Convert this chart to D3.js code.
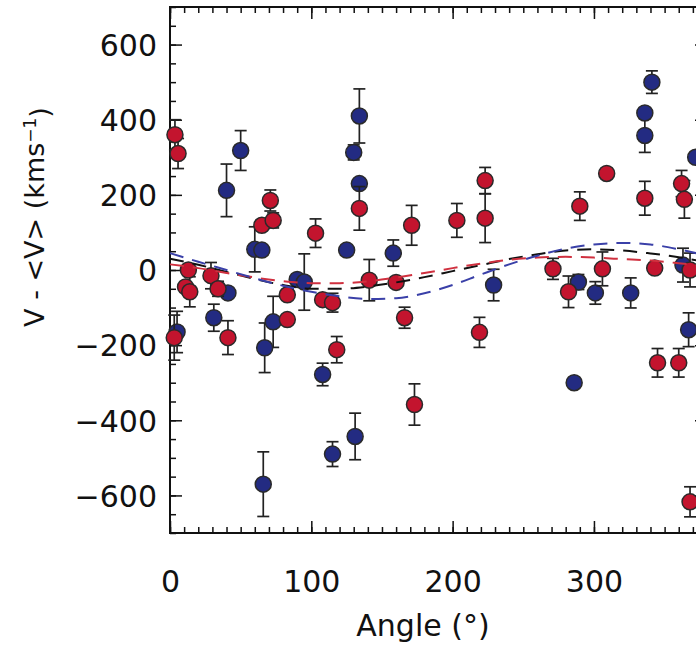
<!DOCTYPE html>
<html>
<head>
<meta charset="utf-8">
<script src="https://cdn.jsdelivr.net/npm/d3@7/dist/d3.min.js"></script>
<style>
  html, body { margin: 0; padding: 0; background: #fff; }
  svg { display: block; }
  text { font-family: "DejaVu Sans", sans-serif; fill: #111; }
</style>
</head>
<body>
<svg id="chart" width="696" height="654"></svg>
<script>
// ---- data (angle in degrees, V - <V> in km/s, error in km/s) ----
const redAngle = [3.5, 5.7, 13, 11, 14, 29, 34, 41, 3, 71, 65, 73, 103, 83, 83, 108, 115, 118, 134, 141, 160, 171, 203, 223, 223, 166, 173, 219, 271, 282, 306, 343, 368, 345, 360, 368, 290, 309, 336, 362, 364];
const redValue = [360, 310, 0, -45, -58, -15, -50, -180, -180, 185, 119, 132, 98, -66, -132, -79, -87, -212, 164, -27, -33, 119, 132, 238, 138, -127, -358, -166, 3, -58, 3, 5, 0, -247, -247, -617, 170, 257, 191, 230, 188];
const redError = [40, 40, 0, 0, 40, 35, 20, 45, 60, 28, 0, 20, 38, 0, 12, 0, 25, 35, 58, 55, 0, 53, 45, 35, 65, 28, 55, 40, 28, 42, 45, 0, 45, 38, 38, 40, 38, 0, 45, 35, 50];

const blueAngle = [50, 40, 60, 65, 90, 95, 125, 158, 134, 130, 134, 229, 31, 41, 67, 73, 108, 66, 115, 131, 5, 289, 301, 326, 286, 367, 363, 341, 336, 336, 372];
const blueValue = [318, 212, 55, 53, -25, -32, 53, 45, 410, 313, 230, -40, -127, -61, -207, -138, -278, -570, -490, -443, -165, -32, -61, -61, -300, -159, 13, 500, 418, 358, 300];
const blueError = [53, 70, 60, 0, 0, 75, 0, 35, 72, 20, 0, 42, 36, 0, 66, 68, 30, 86, 33, 62, 55, 20, 30, 40, 0, 45, 45, 30, 0, 45, 0];

// dashed fit curves, every 20 degrees
const fitAngle = [0, 20, 40, 60, 80, 100, 120, 140, 160, 180, 200, 220, 240, 260, 280, 300, 320, 340, 360, 380];
const fitBlack = [30, 14, -5, -24, -40, -50, -50, -44, -33, -19, -3, 13, 29, 42, 52, 55, 52, 44, 34, 20];
const fitRed   = [15, 5, -8, -20, -30, -35, -35, -30, -20, -8, 5, 17, 27, 33, 35, 33, 29, 25, 18, 10];
const fitBlue  = [45, 22, 0, -22, -42, -58, -70, -77, -75, -62, -40, -12, 15, 38, 57, 68, 72, 68, 55, 38];

const xTicks = [0, 100, 200, 300];
const yTicks = [-600, -400, -200, 0, 200, 400, 600];

// ---- layout ----
const svg = d3.select("#chart");
const x = d3.scaleLinear().domain([0, 380]).range([170, 707]);
const y = d3.scaleLinear().domain([-700, 700]).range([533, 7]);

const xMinor = d3.range(0, 381, 10);
const yMinor = d3.range(-700, 701, 50);
const fmt = d => (d < 0 ? "\u2212" + Math.abs(d) : String(d));

// frame
svg.append("rect")
  .attr("x", x(0)).attr("y", y(700))
  .attr("width", x(380) - x(0)).attr("height", y(-700) - y(700))
  .attr("fill", "none").attr("stroke", "#111").attr("stroke-width", 2);

function styleAxis(g) {
  g.select(".domain").remove();
  g.selectAll(".tick line").attr("stroke", "#111").attr("stroke-width", 1.5);
}

// minor ticks
svg.append("g").attr("transform", `translate(0,${y(-700)})`)
  .call(d3.axisBottom(x).tickValues(xMinor).tickSize(-6).tickFormat(""))
  .call(styleAxis);
svg.append("g").attr("transform", `translate(0,${y(700)})`)
  .call(d3.axisTop(x).tickValues(xMinor).tickSize(-6).tickFormat(""))
  .call(styleAxis);
svg.append("g").attr("transform", `translate(${x(0)},0)`)
  .call(d3.axisLeft(y).tickValues(yMinor).tickSize(-6).tickFormat(""))
  .call(styleAxis);
svg.append("g").attr("transform", `translate(${x(380)},0)`)
  .call(d3.axisRight(y).tickValues(yMinor).tickSize(-6).tickFormat(""))
  .call(styleAxis);

// major ticks + labels
const xAx = svg.append("g").attr("transform", `translate(0,${y(-700)})`)
  .call(d3.axisBottom(x).tickValues(xTicks).tickSize(-12).tickFormat(fmt))
  .call(styleAxis);
xAx.selectAll(".tick text").attr("y", 59).attr("dy", 0)
  .style("font-size", "30px").style("font-family", "DejaVu Sans, sans-serif").attr("fill", "#111");
svg.append("g").attr("transform", `translate(0,${y(700)})`)
  .call(d3.axisTop(x).tickValues(xTicks).tickSize(-12).tickFormat(""))
  .call(styleAxis);
const yAx = svg.append("g").attr("transform", `translate(${x(0)},0)`)
  .call(d3.axisLeft(y).tickValues(yTicks).tickSize(-12).tickPadding(13).tickFormat(fmt))
  .call(styleAxis);
yAx.selectAll(".tick text").attr("dy", "0.36em")
  .style("font-size", "30px").style("font-family", "DejaVu Sans, sans-serif").attr("fill", "#111");
svg.append("g").attr("transform", `translate(${x(380)},0)`)
  .call(d3.axisRight(y).tickValues(yTicks).tickSize(-12).tickFormat(""))
  .call(styleAxis);

// axis titles
svg.append("text")
  .attr("x", 423).attr("y", 636).attr("text-anchor", "middle")
  .style("font-size", "30px").text("Angle (\u00b0)");

const yl = svg.append("text")
  .attr("transform", "translate(44,217) rotate(-90)")
  .attr("text-anchor", "middle").style("font-size", "27px");
yl.append("tspan").text("V - <V> (kms");
yl.append("tspan").attr("dy", "-0.45em").style("font-size", "17px").text("\u22121");
yl.append("tspan").attr("dy", "0.45em").text(")");

// ---- points ----
const plot = svg.append("g");
function drawSeries(angles, values, errors, fill) {
  const data = angles.map((a, i) => ({ a, v: values[i], e: errors[i] }));
  const g = plot.append("g");
  const eb = g.selectAll("g.eb").data(data.filter(d => d.e > 0)).join("g")
    .attr("stroke", "#222").attr("stroke-width", 1.7);
  eb.append("line").attr("x1", d => x(d.a)).attr("x2", d => x(d.a))
    .attr("y1", d => y(d.v + d.e)).attr("y2", d => y(d.v - d.e));
  eb.append("line").attr("x1", d => x(d.a) - 6).attr("x2", d => x(d.a) + 6)
    .attr("y1", d => y(d.v + d.e)).attr("y2", d => y(d.v + d.e));
  eb.append("line").attr("x1", d => x(d.a) - 6).attr("x2", d => x(d.a) + 6)
    .attr("y1", d => y(d.v - d.e)).attr("y2", d => y(d.v - d.e));
  g.selectAll("circle").data(data).join("circle")
    .attr("cx", d => x(d.a)).attr("cy", d => y(d.v)).attr("r", 8)
    .attr("fill", fill).attr("stroke", "#2a2a2a").attr("stroke-width", 1.5);
}
drawSeries(blueAngle, blueValue, blueError, "#232b82");
drawSeries(redAngle, redValue, redError, "#c3142e");

// ---- dashed fits ----
const line = d3.line().x(d => x(d[0])).y(d => y(d[1])).curve(d3.curveMonotoneX);
[[fitBlack, "#111"], [fitRed, "#d0303f"], [fitBlue, "#3a40a8"]].forEach(([vals, col]) => {
  svg.append("path").datum(fitAngle.map((a, i) => [a, vals[i]]))
    .attr("d", line).attr("fill", "none").attr("stroke", col)
    .attr("stroke-width", 2).attr("stroke-dasharray", "14,9");
});
</script>
</body>
</html>
